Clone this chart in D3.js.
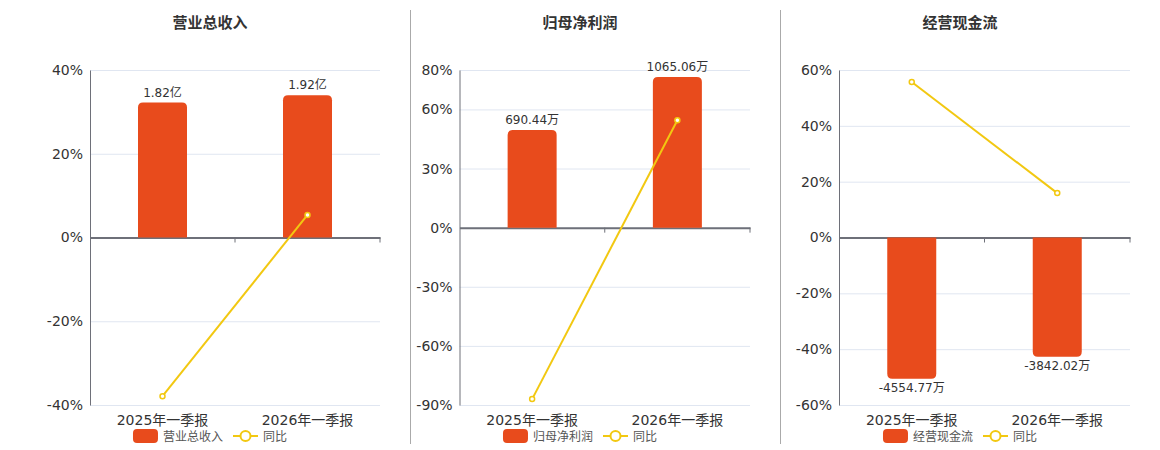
<!DOCTYPE html>
<html>
<head>
<meta charset="utf-8">
<script src="https://cdn.jsdelivr.net/npm/d3@7"></script>
<style>
  body { margin: 0; background: #fff; }
  svg { font-family: "DejaVu Sans", "Noto Sans CJK SC", sans-serif; }
</style>
</head>
<body>
<div id="chart"></div>
<script>
// data
var categories = ["2025年一季报", "2026年一季报"];
var titles = ["营业总收入", "归母净利润", "经营现金流"];

var revenue = [1.82, 1.92];            // 亿
var netProfit = [690.44, 1065.06];     // 万
var cashFlow = [-4554.77, -3842.02];   // 万

var revenueYoY = [-37.9, 5.4];
var profitYoY = [-87.0, 54.5];
var cashYoY = [55.7, 15.9];

var revenueTicks = [-40, -20, 0, 20, 40];
var profitTicks = [-90, -60, -30, 0, 30, 60, 80];
var cashTicks = [-60, -40, -20, 0, 20, 40, 60];

var barColor = "#E84B1C";
var lineColor = "#F2C811";

var panels = [
  {title: titles[0], bars: revenue, yoy: revenueYoY, ticks: revenueTicks, unit: "亿",
   left: 90, right: 380, center: 210, barRef: 2.26, pctRef: 40},
  {title: titles[1], bars: netProfit, yoy: profitYoY, ticks: profitTicks, unit: "万",
   left: 459.5, right: 750, center: 580, barRef: 1114, pctRef: 80},
  {title: titles[2], bars: cashFlow, yoy: cashYoY, ticks: cashTicks, unit: "万",
   left: 839, right: 1130, center: 960, barRef: -5400, pctRef: -60}
];

var width = 1160, height = 450;
var plotTop = 70, plotBottom = 405;

var svg = d3.select("#chart")
    .append("svg")
    .attr("width", width)
    .attr("height", height);

// dividers between panels
[410.5, 780.5].forEach(function(x) {
    svg.append("line")
        .attr("x1", x).attr("x2", x)
        .attr("y1", 10).attr("y2", 444)
        .attr("stroke", "#aaa")
        .attr("stroke-width", 1);
});

function fmt(v, unit) {
    return v + unit;
}

panels.forEach(function(p) {
    var g = svg.append("g");

    var yScale = d3.scaleLinear()
        .domain(d3.extent(p.ticks))
        .range([plotBottom, plotTop]);

    var xScale = d3.scaleBand()
        .domain(categories)
        .range([p.left, p.right]);

    // bars sit on their own hidden axis, zero aligned with the percent axis
    var barScale = d3.scaleLinear()
        .domain([0, p.barRef])
        .range([yScale(0), yScale(p.pctRef)]);

    // title
    g.append("text")
        .attr("x", p.center)
        .attr("y", 28)
        .attr("text-anchor", "middle")
        .attr("font-size", 15)
        .attr("font-weight", "bold")
        .attr("fill", "#333")
        .text(p.title);

    // grid lines
    g.selectAll(".grid")
        .data(p.ticks)
        .enter()
        .append("line")
        .attr("x1", p.left)
        .attr("x2", p.right)
        .attr("y1", function(d) { return yScale(d) + 0.5; })
        .attr("y2", function(d) { return yScale(d) + 0.5; })
        .attr("stroke", "#E0E6F1");

    // y axis
    var yAxis = g.append("g")
        .attr("transform", "translate(" + p.left + ",0)")
        .call(d3.axisLeft(yScale).tickValues(p.ticks).tickSize(0).tickPadding(7)
            .tickFormat(function(d) { return d + "%"; }));
    yAxis.select(".domain").attr("stroke", "#6E7079");
    yAxis.selectAll("text")
        .attr("font-size", 14)
        .attr("fill", "#333")
        .attr("font-family", "DejaVu Sans, sans-serif");

    // x axis at zero
    var xAxis = g.append("g")
        .attr("transform", "translate(0," + yScale(0) + ")")
        .call(d3.axisBottom(xScale).tickSize(0).tickFormat(""));
    xAxis.select(".domain").attr("stroke", "#6E7079").attr("stroke-width", 2);
    xAxis.selectAll(".tick").remove();
    g.selectAll(".xtick")
        .data(categories)
        .enter()
        .append("line")
        .attr("x1", function(d) { return xScale(d) + xScale.bandwidth(); })
        .attr("x2", function(d) { return xScale(d) + xScale.bandwidth(); })
        .attr("y1", yScale(0))
        .attr("y2", yScale(0) + 5)
        .attr("stroke", "#6E7079");

    // category labels
    g.selectAll(".cat")
        .data(categories)
        .enter()
        .append("text")
        .attr("x", function(d) { return xScale(d) + xScale.bandwidth() / 2; })
        .attr("y", plotBottom + 20)
        .attr("text-anchor", "middle")
        .attr("font-size", 14)
        .attr("fill", "#333")
        .text(function(d) { return d; });

    // bars with rounded outer corners
    var bw = 49, r = 5;
    g.selectAll(".bar")
        .data(p.bars)
        .enter()
        .append("path")
        .attr("fill", barColor)
        .attr("d", function(d, i) {
            var cx = xScale(categories[i]) + xScale.bandwidth() / 2;
            var x0 = cx - bw / 2, x1 = cx + bw / 2;
            var y0 = barScale(0), y1 = barScale(d);
            var s = y1 < y0 ? 1 : -1;
            return "M" + x0 + "," + y0 +
                "L" + x0 + "," + (y1 + s * r) +
                "Q" + x0 + "," + y1 + " " + (x0 + r) + "," + y1 +
                "L" + (x1 - r) + "," + y1 +
                "Q" + x1 + "," + y1 + " " + x1 + "," + (y1 + s * r) +
                "L" + x1 + "," + y0 + "Z";
        });

    // bar value labels
    g.selectAll(".blabel")
        .data(p.bars)
        .enter()
        .append("text")
        .attr("x", function(d, i) { return xScale(categories[i]) + xScale.bandwidth() / 2; })
        .attr("y", function(d) { return d >= 0 ? barScale(d) - 6 : barScale(d) + 13; })
        .attr("text-anchor", "middle")
        .attr("font-size", 12)
        .attr("fill", "#333")
        .text(function(d) { return fmt(d, p.unit); });

    // yoy line
    var line = d3.line()
        .x(function(d, i) { return xScale(categories[i]) + xScale.bandwidth() / 2; })
        .y(function(d) { return yScale(d); });

    g.append("path")
        .datum(p.yoy)
        .attr("d", line)
        .attr("fill", "none")
        .attr("stroke", lineColor)
        .attr("stroke-width", 2);

    g.selectAll(".pt")
        .data(p.yoy)
        .enter()
        .append("circle")
        .attr("cx", function(d, i) { return xScale(categories[i]) + xScale.bandwidth() / 2; })
        .attr("cy", function(d) { return yScale(d); })
        .attr("r", 2.5)
        .attr("fill", "#fff")
        .attr("stroke", lineColor)
        .attr("stroke-width", 1.5);

    // legend
    var lg = g.append("g");
    var ly = 436;
    lg.append("rect")
        .attr("x", 0).attr("y", ly - 7)
        .attr("width", 25).attr("height", 14)
        .attr("rx", 4)
        .attr("fill", barColor);
    var t1 = lg.append("text")
        .attr("x", 30).attr("y", ly + 4.5)
        .attr("font-size", 12)
        .attr("fill", "#555")
        .text(p.title);
    var x2 = 30 + t1.node().getComputedTextLength() + 10;
    lg.append("line")
        .attr("x1", x2).attr("x2", x2 + 25)
        .attr("y1", ly).attr("y2", ly)
        .attr("stroke", lineColor)
        .attr("stroke-width", 2);
    lg.append("circle")
        .attr("cx", x2 + 12.5).attr("cy", ly)
        .attr("r", 5)
        .attr("fill", "#fff")
        .attr("stroke", lineColor)
        .attr("stroke-width", 2);
    var t2 = lg.append("text")
        .attr("x", x2 + 30).attr("y", ly + 4.5)
        .attr("font-size", 12)
        .attr("fill", "#555")
        .text("同比");
    var lw = x2 + 30 + t2.node().getComputedTextLength();
    lg.attr("transform", "translate(" + (p.center - lw / 2) + ",0)");
});
</script>
</body>
</html>
